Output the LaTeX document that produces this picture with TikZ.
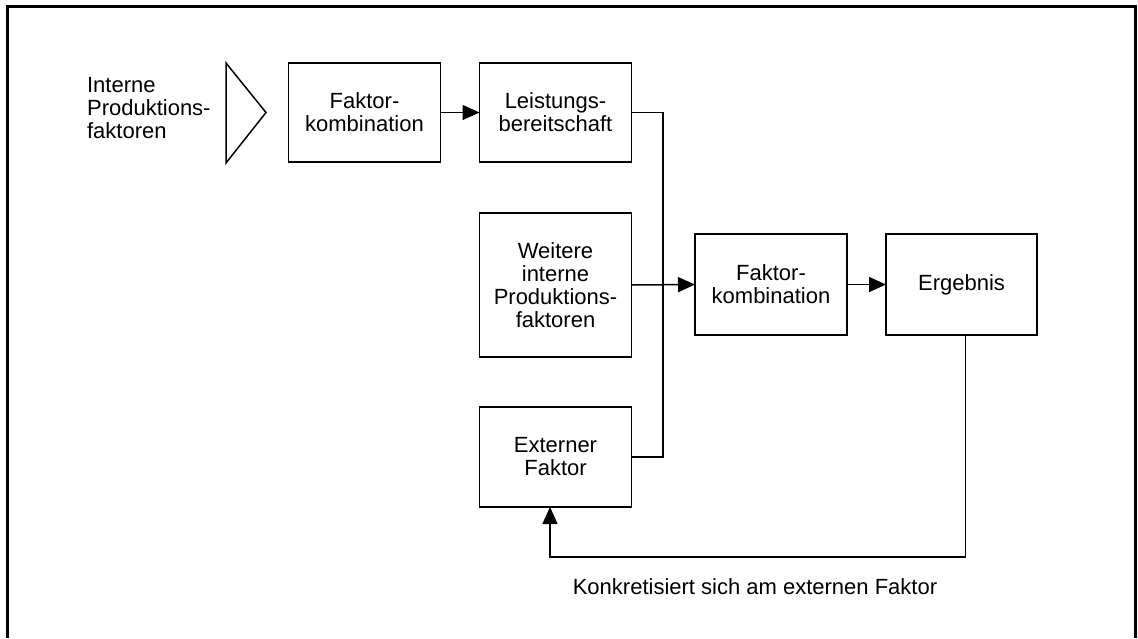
\documentclass[tikz,border=0pt]{standalone}
\usepackage{fontspec}
\setmainfont{Liberation Sans}
\usetikzlibrary{arrows.meta,positioning}
\tikzset{>={Triangle[width=15pt,length=17pt]}}

\begin{document}
\begin{tikzpicture}[x=1pt, y=-1pt, line width=1.5pt,
  font=\fontsize{22}{23}\selectfont,
  block/.style = {draw, line width=1.7pt, align=center, minimum width=152pt, inner sep=0pt, outer sep=0pt}]
\useasboundingbox (0,0) rectangle (1138,638);
% Rahmen (unten offen)
\draw[line width=2.5pt] (7.5,638) -- (7.5,6.5) -- (1135.5,6.5) -- (1135.5,638);

% obere Reihe
\node[align=left, anchor=west] (intern) at (83,108) {Interne\\Produktions-\\faktoren};
\draw (226,63) -- (266,112.5) -- (226,163) -- cycle;
\node[block, minimum height=99pt] (fk1) at (364.5,112.5) {Faktor-\\kombination};
\node[block, minimum height=99pt] (lb) [right=39pt of fk1] {Leistungs-\\bereitschaft};

% linke Spalte
\node[block, minimum height=144pt] (wip) [below=51pt of lb] {Weitere\\interne\\Produktions-\\faktoren};
\node[block, minimum height=100pt] (ext) [below=50pt of wip] {Externer\\Faktor};

% rechte Seite
\node[block, minimum height=101pt] (fk2) at (771,284.5) {Faktor-\\kombination};
\node[block, minimum height=101pt, minimum width=151pt] (erg) [right=39pt of fk2] {Ergebnis};
\coordinate (bus) at (663,284.5);
\coordinate (ret) at (550,557);

\draw[->] (fk1) -- (lb);
\draw (lb.east) -| (bus |- ext.east) -- (ext.east);
\draw[->] (wip.east) -- (fk2.west);
\draw[->] (fk2) -- (erg);
\draw[->] ([xshift=4pt]erg.south) |- (ret) -- (ret |- ext.south);

\node (konkret) at (755,587) {Konkretisiert sich am externen Faktor};
\end{tikzpicture}
\end{document}
